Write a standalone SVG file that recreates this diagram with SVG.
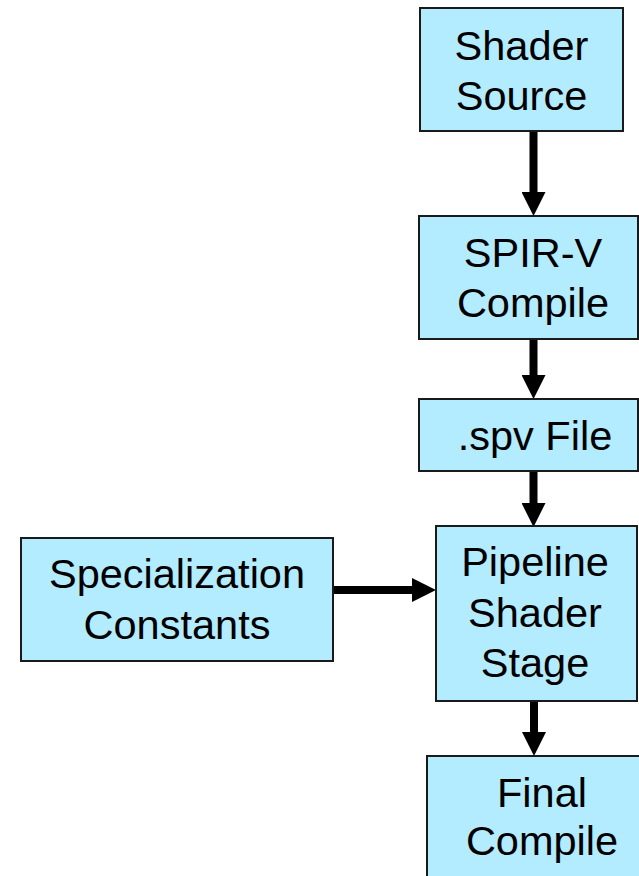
<svg xmlns="http://www.w3.org/2000/svg" width="639" height="876" viewBox="0 0 639 876">
  <style>
    .box { fill: #b3ebff; stroke: #1a1a1a; stroke-width: 2; }
    .lbl { font-family: "Liberation Sans", Arial, sans-serif; font-size: 41.5px; fill: #000; text-anchor: middle; }
    .conn { stroke: #000; stroke-width: 8; fill: none; marker-end: url(#head); }
  </style>
  <defs>
    <marker id="head" markerUnits="userSpaceOnUse" markerWidth="24" markerHeight="24" refX="0" refY="12" orient="auto">
      <path d="M0,0 L24,12 L0,24 Z" fill="#000"/>
    </marker>
  </defs>
  <rect width="639" height="876" fill="#fff"/>

  <g id="connectors">
    <line class="conn" x1="533.5" y1="131" x2="533.5" y2="192"/>
    <line class="conn" x1="533.5" y1="339" x2="533.5" y2="375"/>
    <line class="conn" x1="533.5" y1="471" x2="533.5" y2="503"/>
    <line class="conn" x1="534" y1="701" x2="534" y2="732"/>
    <line class="conn" x1="333" y1="590" x2="412" y2="590"/>
  </g>

  <g id="shader-source">
    <rect class="box" x="420" y="8" width="203" height="123"/>
    <text class="lbl" x="521.5" y="60">Shader</text>
    <text class="lbl" x="521.5" y="110">Source</text>
  </g>

  <g id="spirv-compile">
    <rect class="box" x="419" y="216" width="219" height="123"/>
    <text class="lbl" x="533" y="267">SPIR-V</text>
    <text class="lbl" x="533" y="317">Compile</text>
  </g>

  <g id="spv-file">
    <rect class="box" x="419" y="399" width="219" height="72"/>
    <text class="lbl" x="535" y="450">.spv File</text>
  </g>

  <g id="specialization-constants">
    <rect class="box" x="21" y="538" width="312" height="123"/>
    <text class="lbl" x="177" y="588">Specialization</text>
    <text class="lbl" x="177" y="639">Constants</text>
  </g>

  <g id="pipeline-shader-stage">
    <rect class="box" x="436" y="526" width="201" height="175"/>
    <text class="lbl" x="535" y="576">Pipeline</text>
    <text class="lbl" x="535" y="627">Shader</text>
    <text class="lbl" x="535" y="677">Stage</text>
  </g>

  <g id="final-compile">
    <rect class="box" x="427" y="756" width="230" height="130"/>
    <text class="lbl" x="542" y="807">Final</text>
    <text class="lbl" x="542" y="855">Compile</text>
  </g>
</svg>
